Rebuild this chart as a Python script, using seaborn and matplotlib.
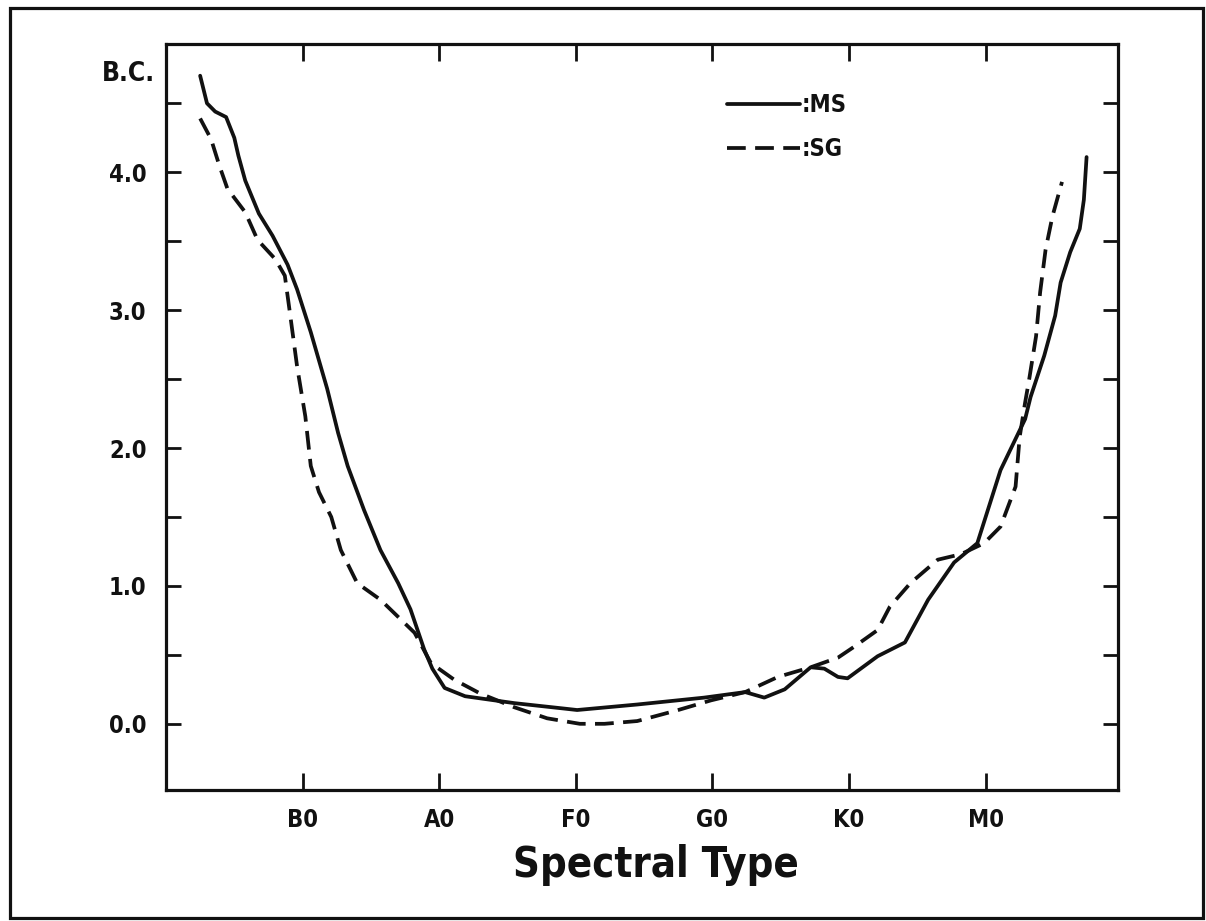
import matplotlib
matplotlib.use("Agg")
import matplotlib.pyplot as plt
from matplotlib.patches import Rectangle
import seaborn as sns

# ---------------- data ----------------
spectral_ticks = [1, 2, 3, 4, 5, 6]
spectral_labels = ["B0", "A0", "F0", "G0", "K0", "M0"]
bc_ticks = [0.0, 1.0, 2.0, 3.0, 4.0]
bc_minor = [-0.5, 0.5, 1.5, 2.5, 3.5, 4.5]

ms_x = [0.25, 0.30, 0.36, 0.44, 0.50, 0.53, 0.58, 0.68, 0.78, 0.89, 0.96, 1.06,
        1.18, 1.26, 1.33, 1.45, 1.57, 1.70, 1.79, 1.89, 1.95, 2.04, 2.19, 2.55,
        2.92, 3.01, 3.45, 3.94, 4.24, 4.38, 4.53, 4.72, 4.82, 4.92, 4.99, 5.21,
        5.41, 5.58, 5.77, 5.94, 6.11, 6.29, 6.33, 6.43, 6.51, 6.55, 6.62, 6.69,
        6.72, 6.74]
ms_y = [4.70, 4.50, 4.44, 4.40, 4.25, 4.12, 3.94, 3.70, 3.54, 3.33, 3.15, 2.84,
        2.43, 2.11, 1.87, 1.55, 1.26, 1.02, 0.83, 0.54, 0.40, 0.26, 0.20, 0.15,
        0.11, 0.10, 0.14, 0.19, 0.23, 0.19, 0.25, 0.41, 0.40, 0.34, 0.33, 0.49,
        0.59, 0.90, 1.17, 1.31, 1.84, 2.21, 2.37, 2.67, 2.96, 3.20, 3.42, 3.59,
        3.80, 4.11]

sg_x = [0.25, 0.33, 0.39, 0.45, 0.58, 0.67, 0.80, 0.87, 0.91, 0.96, 1.02, 1.06,
        1.12, 1.21, 1.28, 1.40, 1.57, 1.82, 1.94, 2.11, 2.30, 2.55, 2.79, 3.03,
        3.21, 3.45, 3.75, 3.99, 4.24, 4.48, 4.72, 4.92, 5.04, 5.21, 5.30, 5.45,
        5.65, 5.82, 5.99, 6.11, 6.22, 6.25, 6.29, 6.32, 6.37, 6.40, 6.44, 6.49,
        6.56]
sg_y = [4.39, 4.24, 4.05, 3.88, 3.71, 3.51, 3.37, 3.25, 2.96, 2.59, 2.23, 1.87,
        1.68, 1.50, 1.26, 1.02, 0.90, 0.66, 0.44, 0.32, 0.22, 0.12, 0.04, 0.00,
        0.00, 0.02, 0.10, 0.17, 0.23, 0.34, 0.41, 0.48, 0.56, 0.68, 0.85, 1.02,
        1.19, 1.23, 1.31, 1.43, 1.72, 2.08, 2.33, 2.50, 2.81, 3.13, 3.44, 3.68,
        3.93]

# ---------------- style ----------------
sns.set_style("white")
plt.rcParams["font.family"] = ["DejaVu Sans"]
plt.rcParams["font.stretch"] = "condensed"
plt.rcParams["font.weight"] = "bold"

INK = "#111111"
W, H = 1206, 921
fig = plt.figure(figsize=(W / 100, H / 100), dpi=100)
fig.patch.set_facecolor("white")

L, R, T, B = 166, 1118, 44, 790
ax = fig.add_axes([L / W, 1 - B / H, (R - L) / W, (B - T) / H])

sns.lineplot(x=ms_x, y=ms_y, ax=ax, color=INK, linewidth=2.7, sort=False,
             label=":MS", solid_joinstyle="round", solid_capstyle="round")
sns.lineplot(x=sg_x, y=sg_y, ax=ax, color=INK, linewidth=2.7, sort=False,
             linestyle=(0, (5, 2.5)), label=":SG")

ax.set_xlim(0, 6.97)
ax.set_ylim(-0.48, 4.93)

ax.set_xticks(spectral_ticks)
ax.set_xticklabels(spectral_labels)
ax.set_yticks(bc_ticks)
ax.set_yticklabels([f"{v:.1f}" for v in bc_ticks])
ax.set_yticks(bc_minor[1:], minor=True)

ax.tick_params(axis="x", which="both", direction="in", top=True, bottom=True,
               length=12, width=2, pad=13, labelsize=17, colors=INK)
ax.tick_params(axis="y", which="both", direction="in", left=True, right=True,
               length=11, width=2, pad=14, labelsize=17, colors=INK)
for lab in ax.get_xticklabels() + ax.get_yticklabels():
    lab.set_fontweight("bold")

for s in ax.spines.values():
    s.set_visible(True)
    s.set_linewidth(2.3)
    s.set_color(INK)

ax.set_xlabel("Spectral Type", fontsize=30, fontweight="bold", color=INK,
              va="center")
ax.xaxis.set_label_coords((656 - L) / (R - L), -(865 - B) / (B - T))
ax.set_ylabel("")

fig.text(128 / W, 1 - 74 / H, "B.C.", fontsize=19, fontweight="bold",
         ha="center", va="center", color=INK)

leg = ax.legend(loc="upper left", bbox_to_anchor=((727 - L) / (R - L), (B - 93) / (B - T)),
                frameon=False, handlelength=3.1, handletextpad=0.05,
                labelspacing=0.85, borderaxespad=0, borderpad=0,
                prop={"size": 17, "weight": "bold"})
for t in leg.get_texts():
    t.set_color(INK)

# outer frame of the figure
fig.patches.append(Rectangle((10 / W, 1 - 918 / H), (1203 - 10) / W, (918 - 8) / H,
                             transform=fig.transFigure, fill=False,
                             edgecolor=INK, linewidth=2.3))

fig.savefig("out.png", dpi=100, facecolor="white")
